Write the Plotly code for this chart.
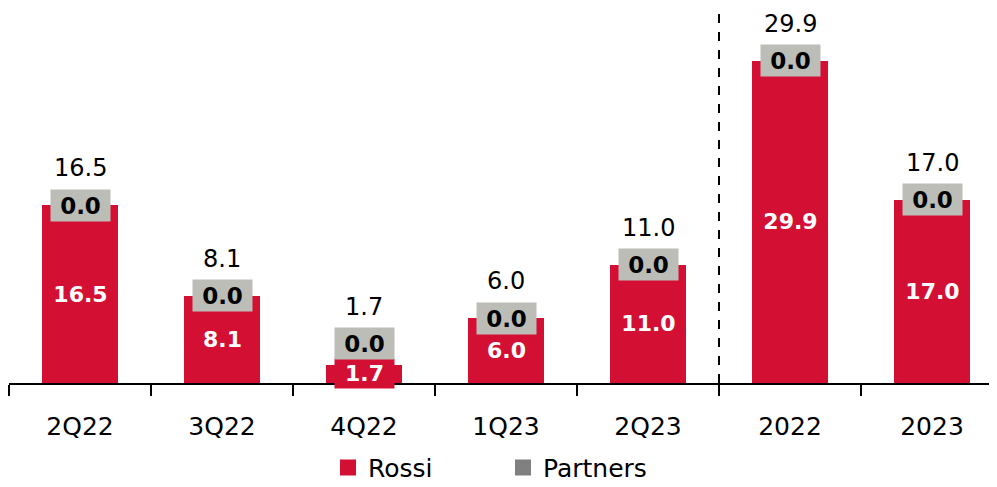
import plotly.graph_objects as go

categories = ["2Q22", "3Q22", "4Q22", "1Q23", "2Q23", "2022", "2023"]
rossi = [16.5, 8.1, 1.7, 6.0, 11.0, 29.9, 17.0]
partners = [0.0, 0.0, 0.0, 0.0, 0.0, 0.0, 0.0]
totals = [r + p for r, p in zip(rossi, partners)]

RED = "#D31034"
GRAY_BOX = "#BCBDB7"
GRAY_LEG = "#808080"
FONT = "DejaVu Sans"

W, H = 989, 479
ML, MR, MT, MB = 1, 0, 0, 104
YMAX = 34.82
PPU = (H - MT - MB) / YMAX  # pixels per unit

fig = go.Figure()
fig.add_trace(go.Bar(x=categories, y=rossi, name="Rossi", showlegend=False,
                     marker=dict(color=RED, line=dict(width=0))))
fig.add_trace(go.Bar(x=categories, y=partners, name="Partners", showlegend=False,
                     marker=dict(color=GRAY_LEG, line=dict(width=0))))
# legend entries
fig.add_trace(go.Scatter(x=[None], y=[None], mode="markers", name="Rossi",
                         marker=dict(symbol="square", size=16, color=RED)))
fig.add_trace(go.Scatter(x=[None], y=[None], mode="markers", name="Partners",
                         marker=dict(symbol="square", size=16, color=GRAY_LEG)))

ann = []
for i, (r, p, t) in enumerate(zip(rossi, partners, totals)):
    barpx = r * PPU
    lift = max(0.0, 30 - barpx / 2)
    ann.append(dict(x=i, y=r / 2, text=f"<b>{r:.1f}</b>", showarrow=False,
                    font=dict(family=FONT, size=22, color="white"), bgcolor=RED,
                    width=59, height=29, borderpad=0, xref="x", yref="y"))
    ann.append(dict(x=i, y=r + p / 2, text=f"<b>{p:.1f}</b>", showarrow=False, yshift=lift,
                    font=dict(family=FONT, size=23, color="black"), bgcolor=GRAY_BOX,
                    width=59, height=31, borderpad=0, xref="x", yref="y"))
    ann.append(dict(x=i, y=t, text=f"{t:.1f}", showarrow=False, yshift=37 + lift,
                    font=dict(family=FONT, size=24, color="black"),
                    xref="x", yref="y"))

fig.update_layout(
    barmode="stack",
    bargap=0.47,
    width=W, height=H,
    margin=dict(l=ML, r=MR, t=MT, b=MB, autoexpand=False),
    plot_bgcolor="white", paper_bgcolor="white",
    font=dict(family=FONT, size=25, color="black"),
    annotations=ann,
    showlegend=True,
    legend=dict(orientation="h", x=0.5, xanchor="center", yref="container", y=0.04, yanchor="middle",
                font=dict(family=FONT, size=25), traceorder="normal", entrywidth=130,
                itemsizing="trace"),
    shapes=[dict(type="line", xref="x", yref="paper", x0=4.5, x1=4.5, y0=0, y1=1,
                 line=dict(color="black", width=2, dash="dash"))],
)
fig.update_xaxes(type="category", range=[-0.5, -0.5 + (W - ML - MR) / 142],
                 showline=True, linecolor="black", linewidth=2,
                 ticks="outside", tickson="boundaries", ticklen=11, tickwidth=2, tickcolor="black",
                 ticklabelstandoff=20, showgrid=False, automargin=False,
                 tickfont=dict(family=FONT, size=25))
fig.update_yaxes(range=[0, YMAX], visible=False, showgrid=False)

fig.write_html("out.html")
